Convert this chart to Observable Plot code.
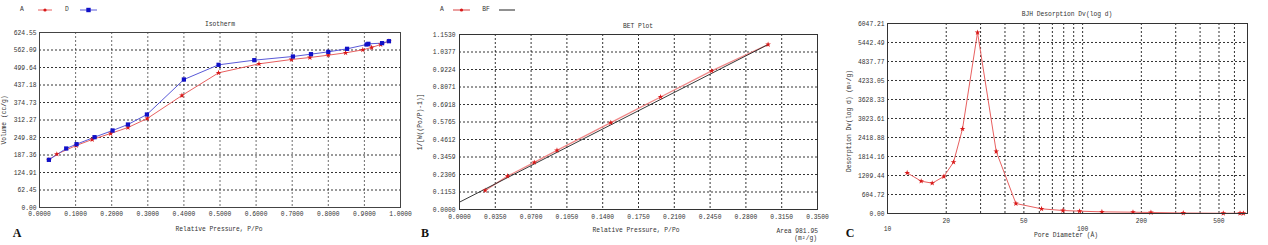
<!DOCTYPE html>
<html><head><meta charset="utf-8">
<script src="https://cdn.jsdelivr.net/npm/d3@7"></script>
<script src="https://cdn.jsdelivr.net/npm/@observablehq/plot@0.6"></script>
<style>
body{margin:0;background:#fff;width:1268px;height:245px;overflow:hidden;position:relative;font-family:"Liberation Mono",monospace;color:#333}
.p{position:absolute;top:0}
.t{position:absolute;font-size:6.3px;white-space:nowrap;transform:translate(-50%,-50%);line-height:1}
.r{position:absolute;font-size:6.3px;white-space:nowrap;transform:translate(-100%,-50%);line-height:1}
.rot{transform:translate(-50%,-50%) rotate(-90deg)}
.L{position:absolute;font-family:"Liberation Serif",serif;font-weight:bold;font-size:12px;transform:translate(-50%,-50%);color:#111}
.sw{position:absolute}
</style></head><body>
<script>
// ---------- Panel A: Isotherm ----------
const isoAX = [0.026, 0.048, 0.1017, 0.146, 0.197, 0.245, 0.2985, 0.3946, 0.496, 0.608, 0.698, 0.749, 0.800, 0.848, 0.8956, 0.920, 0.945, 0.968];
const isoAY = [170.1, 190.3, 221.3, 242.7, 264.1, 285.5, 317.6, 399.7, 480.6, 512.7, 528.2, 535.3, 543.6, 552.0, 562.7, 571.0, 581.7, 593.6];
const isoDX = [0.026, 0.074, 0.1026, 0.1525, 0.2024, 0.245, 0.2976, 0.400, 0.496, 0.595, 0.702, 0.752, 0.800, 0.852, 0.906, 0.911, 0.949, 0.968];
const isoDY = [170.1, 210.6, 226.0, 251.0, 274.8, 296.2, 331.9, 456.8, 509.2, 525.8, 538.9, 547.2, 555.5, 566.3, 581.7, 584.1, 586.5, 593.6];
const isoXLabels = ["0.0000","0.1000","0.2000","0.3000","0.4000","0.5000","0.6000","0.7000","0.8000","0.9000","1.0000"];
const isoYLabels = ["0.00","62.45","124.91","187.36","249.82","312.27","374.73","437.18","499.64","562.09","624.55"];

// ---------- Panel B: BET ----------
const betX = [0.0251, 0.0470, 0.0731, 0.0953, 0.1479, 0.1966, 0.2465, 0.3017];
const betY = [0.1254, 0.2200, 0.3103, 0.3895, 0.5721, 0.7415, 0.9132, 1.0870];
const bfX = [0, 0.3017];
const bfY = [0.0484, 1.087];
const betXLabels = ["0.0000","0.0350","0.0700","0.1050","0.1400","0.1750","0.2100","0.2450","0.2800","0.3150","0.3500"];
const betYLabels = ["0.0000","0.1153","0.2306","0.3459","0.4612","0.5765","0.6918","0.8071","0.9224","1.0377","1.1530"];

// ---------- Panel C: BJH ----------
const bjhX = [12.61, 14.88, 16.95, 19.45, 21.8, 24.24, 28.94, 36.08, 45.5, 61.6, 79.3, 96.5, 125.6, 181.2, 224, 328, 526, 641, 667];
const bjhY = [1294, 1029, 965, 1178, 1634, 2695, 5761, 1973, 318, 149, 95, 74, 53, 42, 32, 15, 8, 8, 8];
const bjhXMajor = ["10","100"];
const bjhXMinor = ["20","50","200","500"];
const bjhXGrid = [20,30,40,50,60,70,80,90,100,200,300,400,500,600];
const bjhYLabels = ["0.00","604.72","1209.44","1814.16","2418.88","3023.61","3628.33","4233.05","4837.77","5442.49","6047.21"];

const RED = "#d81818", REDLINE = "#e86060", BLUE = "#1010c8", BLUELINE = "#5a5ad8";
const style = {fontFamily:"Liberation Mono, monospace", fontSize:"6.3px", background:"transparent", color:"#333", overflow:"visible"};
const dotted = {stroke:"#111", strokeOpacity:0.85, strokeDasharray:"2,2", strokeWidth:1};

function mk(left, opts){
  const d = document.createElement("div"); d.className="p"; d.style.left=left+"px";
  d.appendChild(Plot.plot(opts)); document.body.appendChild(d);
}
function lbl(txt, x, y, cls="t"){
  const d=document.createElement("div"); d.className=cls; d.textContent=txt;
  d.style.left=x+"px"; d.style.top=y+"px"; document.body.appendChild(d); return d;
}

const isoA = isoAX.map((x,i)=>({x, y:isoAY[i]}));
const isoD = isoDX.map((x,i)=>({x, y:isoDY[i]}));
const isoXT = isoXLabels.map(Number), isoYT = isoYLabels.map(Number);
const isoXM = new Map(isoXT.map((v,i)=>[v,isoXLabels[i]])), isoYM = new Map(isoYT.map((v,i)=>[v,isoYLabels[i]]));

mk(0, {
  width:420, height:245, marginLeft:39, marginRight:20, marginTop:32, marginBottom:38, style,
  x:{domain:[0,1]}, y:{domain:[0,624.55]},
  marks:[
    Plot.gridX(isoXT.slice(1,-1), {...dotted, stroke:"#555"}),
    Plot.gridY(isoYT.slice(1,-1), dotted),
    Plot.axisX(isoXT, {tickSize:0, tickPadding:4, tickFormat:d=>isoXM.get(d), label:null}),
    Plot.axisY(isoYT, {tickSize:0, tickPadding:3, tickFormat:d=>isoYM.get(d), label:null}),
    Plot.line(isoA, {x:"x", y:"y", stroke:REDLINE, strokeWidth:1}),
    Plot.line(isoD, {x:"x", y:"y", stroke:BLUELINE, strokeWidth:1}),
    Plot.dot(isoA, {x:"x", y:"y", symbol:"star", r:1.8, fill:RED, stroke:null}),
    Plot.dot(isoD, {x:"x", y:"y", symbol:"square", r:2.4, fill:BLUE, stroke:null}),
    Plot.frame({stroke:"#444"})
  ]
});

const bet = betX.map((x,i)=>({x, y:betY[i]}));
const bf = bfX.map((x,i)=>({x, y:bfY[i]}));
const betXT = betXLabels.map(Number), betYT = betYLabels.map(Number);
const betXM = new Map(betXT.map((v,i)=>[v,betXLabels[i]])), betYM = new Map(betYT.map((v,i)=>[v,betYLabels[i]]));
mk(420, {
  width:420, height:245, marginLeft:39, marginRight:23, marginTop:34, marginBottom:36, style,
  x:{domain:[0,0.35]}, y:{domain:[0,1.153]},
  marks:[
    Plot.gridX(betXT.slice(1,-1), dotted),
    Plot.gridY(betYT.slice(1,-1), dotted),
    Plot.axisX(betXT, {tickSize:0, tickPadding:5, tickFormat:d=>betXM.get(d), label:null}),
    Plot.axisY(betYT, {tickSize:0, tickPadding:4, tickFormat:d=>betYM.get(d), label:null}),
    Plot.line(bet, {x:"x", y:"y", stroke:"#f08888", strokeWidth:1.3}),
    Plot.line(bf, {x:"x", y:"y", stroke:"#222", strokeWidth:0.9}),
    Plot.dot(bet, {x:"x", y:"y", symbol:"star", r:1.8, fill:RED, stroke:null}),
    Plot.frame({stroke:"#333"})
  ]
});

const bjh = bjhX.map((x,i)=>({x, y:bjhY[i]}));
const bjhYT = bjhYLabels.map(Number);
const bjhYM = new Map(bjhYT.map((v,i)=>[v,bjhYLabels[i]]));
mk(840, {
  width:428, height:245, marginLeft:47, marginRight:21, marginTop:23, marginBottom:32, style,
  x:{type:"log", domain:[10,700], axis:null}, y:{domain:[0,6047.21]},
  marks:[
    Plot.gridX(bjhXGrid, dotted),
    Plot.gridY(bjhYT.slice(1,-1), dotted),
    Plot.text(bjhXMajor, {x:d=>+d, text:d=>d, frameAnchor:"bottom", lineAnchor:"top", dy:13, fill:"#333"}),
    Plot.text(bjhXMinor, {x:d=>+d, text:d=>d, frameAnchor:"bottom", lineAnchor:"top", dy:5, fill:"#333"}),
    Plot.axisY(bjhYT, {tickSize:0, tickPadding:3, tickFormat:d=>bjhYM.get(d), label:null}),
    Plot.line(bjh, {x:"x", y:"y", stroke:REDLINE, strokeWidth:1}),
    Plot.dot(bjh, {x:"x", y:"y", symbol:"star", r:1.8, fill:RED, stroke:null}),
    Plot.frame({stroke:"#333"})
  ]
});

// titles, axis labels, letters
lbl("Isotherm", 220, 25);
lbl("Relative Pressure, P/Po", 219, 230);
lbl("Volume (cc/g)", 5, 120, "t rot");
lbl("BET Plot", 638, 27);
lbl("Relative Pressure, P/Po", 636, 231);
lbl("1/[W((Po/P)-1)]", 421, 122, "t rot");
lbl("Area 981.95", 818, 232, "r");
lbl("(m²/g)", 817, 239, "r");
lbl("BJH Desorption Dv(log d)", 1067, 15);
lbl("Pore Diameter (Å)", 1066, 236);
lbl("Desorption Dv(log d) (m²/g)", 850, 121, "t rot");
lbl("A", 17, 233, "L"); lbl("B", 425, 233, "L"); lbl("C", 850, 233, "L");

// legends
lbl("A", 22, 10); lbl("D", 67, 10); lbl("A", 442, 10); lbl("BF", 486, 10);
function sw(x1, x2, col, sym, symCol){
  const ns="http://www.w3.org/2000/svg";
  const s=document.createElementNS(ns,"svg"); s.setAttribute("class","sw");
  s.setAttribute("width", x2-x1+4); s.setAttribute("height", 8);
  s.style.left=(x1-2)+"px"; s.style.top="6px";
  const l=document.createElementNS(ns,"line"); l.setAttribute("x1",2); l.setAttribute("x2",x2-x1+2);
  l.setAttribute("y1",4); l.setAttribute("y2",4); l.setAttribute("stroke",col); l.setAttribute("stroke-width",1);
  s.appendChild(l);
  if(sym){ const c=document.createElementNS(ns, sym==="sq"?"rect":"circle");
    const cx=(x2-x1)/2+2;
    if(sym==="sq"){c.setAttribute("x",cx-2.2);c.setAttribute("y",1.8);c.setAttribute("width",4.4);c.setAttribute("height",4.4);}
    else {c.setAttribute("cx",cx);c.setAttribute("cy",4);c.setAttribute("r",1.6);}
    c.setAttribute("fill",symCol); s.appendChild(c);}
  document.body.appendChild(s);
}
sw(38,52,REDLINE,"st",RED); sw(80,97,BLUELINE,"sq",BLUE);
sw(453,470,"#d84040","st",RED); sw(499,515,"#222",null,null);
</script>
</body></html>
